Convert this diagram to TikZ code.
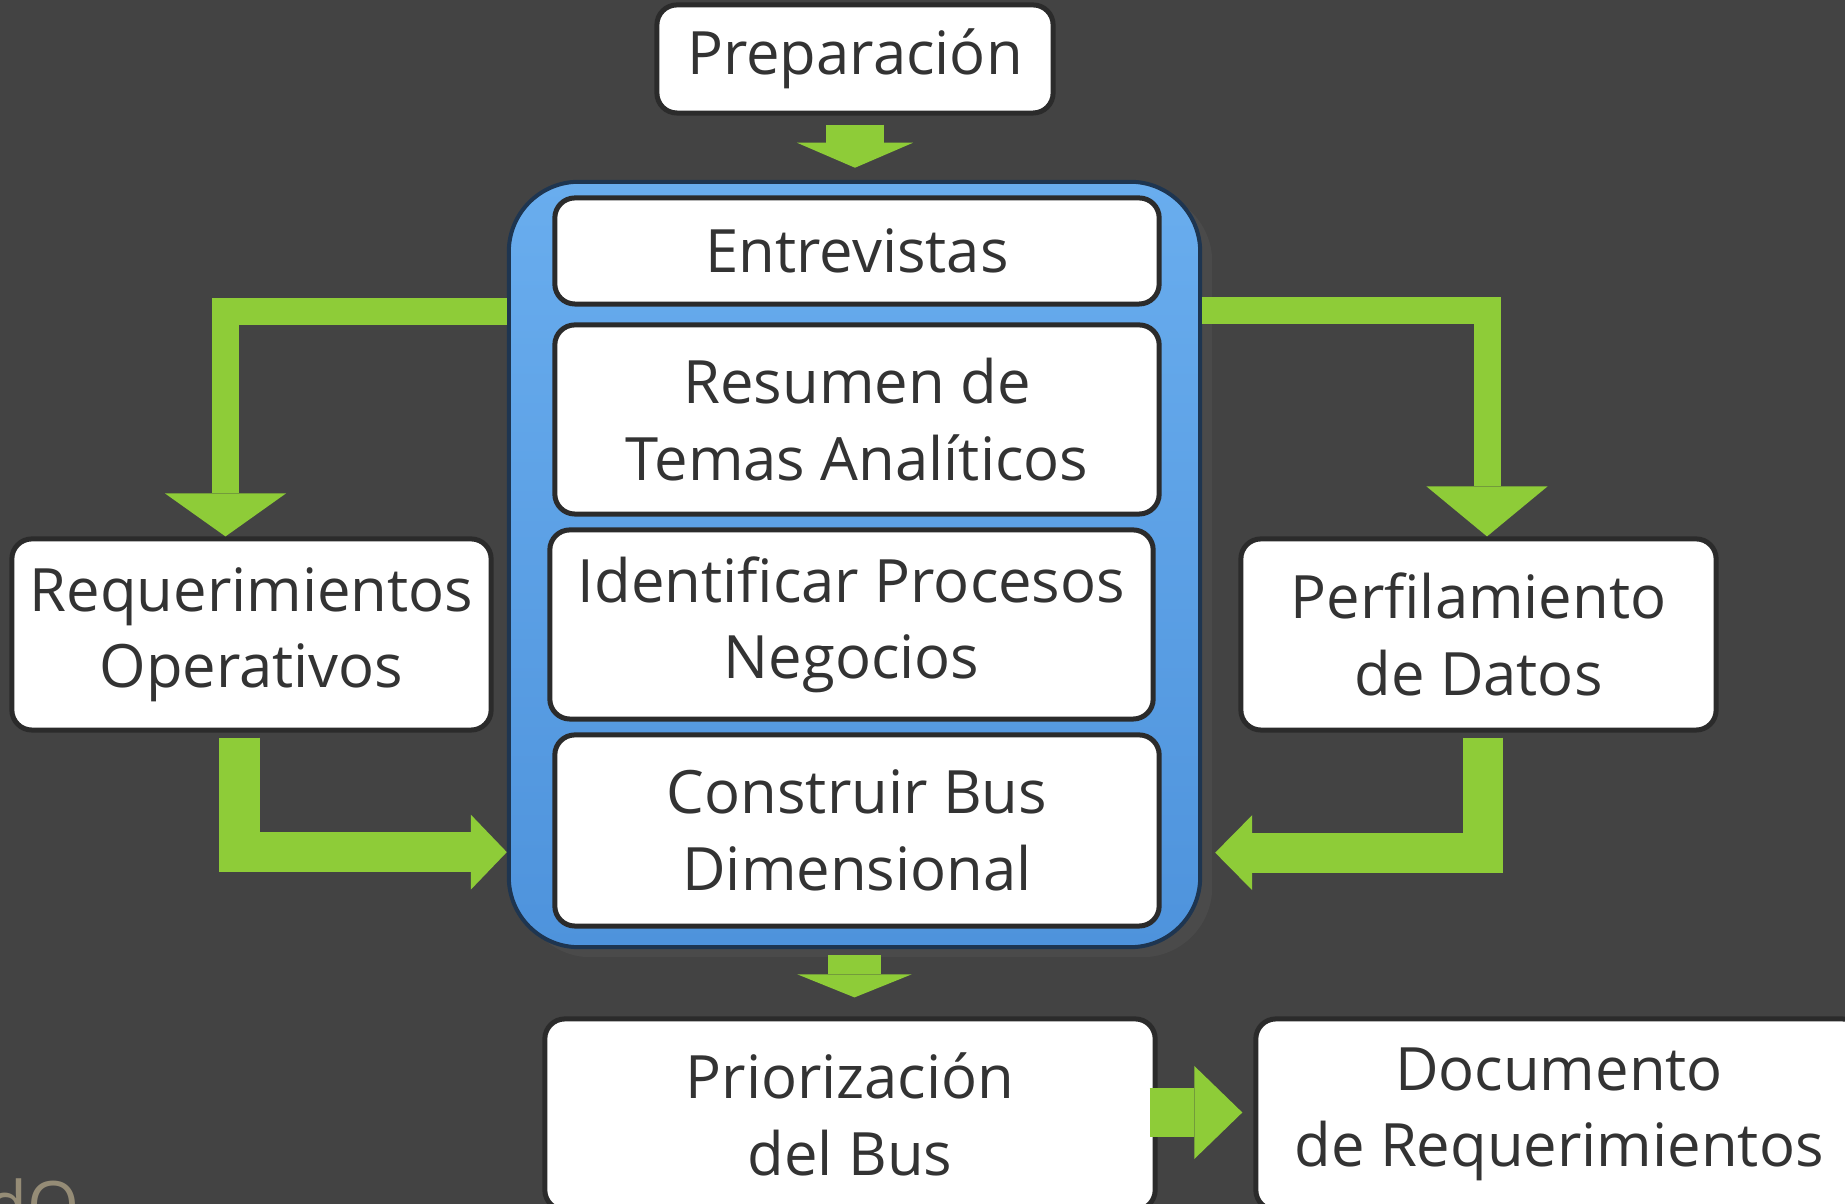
\documentclass[tikz,border=0pt]{standalone}
\usepackage{fontspec}
\setmainfont{Open Sans}
\usetikzlibrary{arrows.meta,shadows}

\definecolor{fondo}{HTML}{434343}
\definecolor{texto}{HTML}{333333}
\definecolor{borde}{HTML}{2B2B2B}
\definecolor{verde}{HTML}{8ECC38}
\definecolor{azularriba}{HTML}{69ADEE}
\definecolor{azulabajo}{HTML}{4E93DC}
\definecolor{azulborde}{HTML}{1E3550}
\definecolor{marca}{HTML}{958C76}

\begin{document}
\begin{tikzpicture}[x=0.01cm, y=0.01cm,
    caja/.style={draw=borde, line width=0.05cm, fill=white, rounded corners=0.2cm,
      text=texto, align=center, font=\fontsize{17}{21.7}\selectfont, inner sep=0pt},
    contenedor/.style={draw=azulborde, line width=0.04cm, rounded corners=0.7cm,
      top color=azularriba, bottom color=azulabajo,
      drop shadow={shadow xshift=0.12cm, shadow yshift=-0.1cm, opacity=0.12}},
    flecha/.style n args={3}{draw=verde, line width=#1,
      -{Triangle[width=#2, length=#3, line width=0pt, fill=verde]}}]
    \clip (0,0) rectangle (1845,1204);
    \fill[fondo] (0,0) rectangle (1845,1204);

    \node[anchor=base west, inner sep=0pt, text=marca, font=\fontsize{19}{19}\selectfont] (marca) at (-14,-26) {dO};

    \node[caja, minimum width=3.96cm, minimum height=1.08cm] (prep) at (855,1145) {Preparación};
    \node[contenedor, minimum width=6.91cm, minimum height=7.65cm] (cont) at (854.5,639.5) {};
    \node[caja, minimum width=6.04cm, minimum height=1.06cm] (entre) at (857,953) {Entrevistas};
    \node[caja, minimum width=6.04cm, minimum height=1.89cm] (resumen) at (857,784.5) {Resumen de\\Temas Analíticos};
    \node[caja, minimum width=6.03cm, minimum height=1.89cm] (ident) at (851.5,579.5) {Identificar Procesos\\Negocios};
    \node[caja, minimum width=6.04cm, minimum height=1.91cm] (constr) at (857,373.5) {Construir Bus\\Dimensional};
    \node[caja, minimum width=4.79cm, minimum height=1.91cm] (req) at (251.5,569.5) {Requerimientos\\Operativos};
    \node[caja, minimum width=4.75cm, minimum height=1.91cm] (perf) at (1478.5,569.5) {Perfilamiento\\de Datos};
    \node[caja, minimum width=6.10cm, minimum height=1.91cm] (prior) at (850,89.5) {Priorización\\del Bus};
    \node[caja, minimum width=6.06cm, minimum height=1.91cm] (doc) at (1559,89.5) {Documento\\de Requerimientos};

    \draw[flecha={0.58cm}{1.16cm}{0.25cm}, shorten <=0.09cm, shorten >=0.12cm] (prep.south) -- (prep.south |- cont.north);
    \draw[flecha={0.27cm}{1.21cm}{0.43cm}] ([yshift=2.53cm]cont.west) -| ([xshift=-0.26cm]req.north);
    \draw[flecha={0.27cm}{1.21cm}{0.50cm}] ([yshift=2.54cm]cont.east) -| ([xshift=0.085cm]perf.north);
    \draw[flecha={0.40cm}{0.75cm}{0.36cm}, shorten <=0.05cm] ([xshift=-0.12cm]req.south) |- ([yshift=-2.875cm]cont.west);
    \draw[flecha={0.40cm}{0.75cm}{0.37cm}, shorten <=0.05cm, shorten >=0.13cm] ([xshift=0.04cm]perf.south) |- ([yshift=-2.88cm]cont.east);
    \draw[flecha={0.53cm}{1.14cm}{0.23cm}, shorten <=0.06cm, shorten >=0.19cm] (cont.south) -- (cont.south |- prior.north);
    \draw[flecha={0.49cm}{0.93cm}{0.48cm}, shorten <=-0.08cm, shorten >=0.11cm] ([yshift=0.02cm]prior.east) -- ([yshift=0.02cm]prior.east -| doc.west);
\end{tikzpicture}
\end{document}
